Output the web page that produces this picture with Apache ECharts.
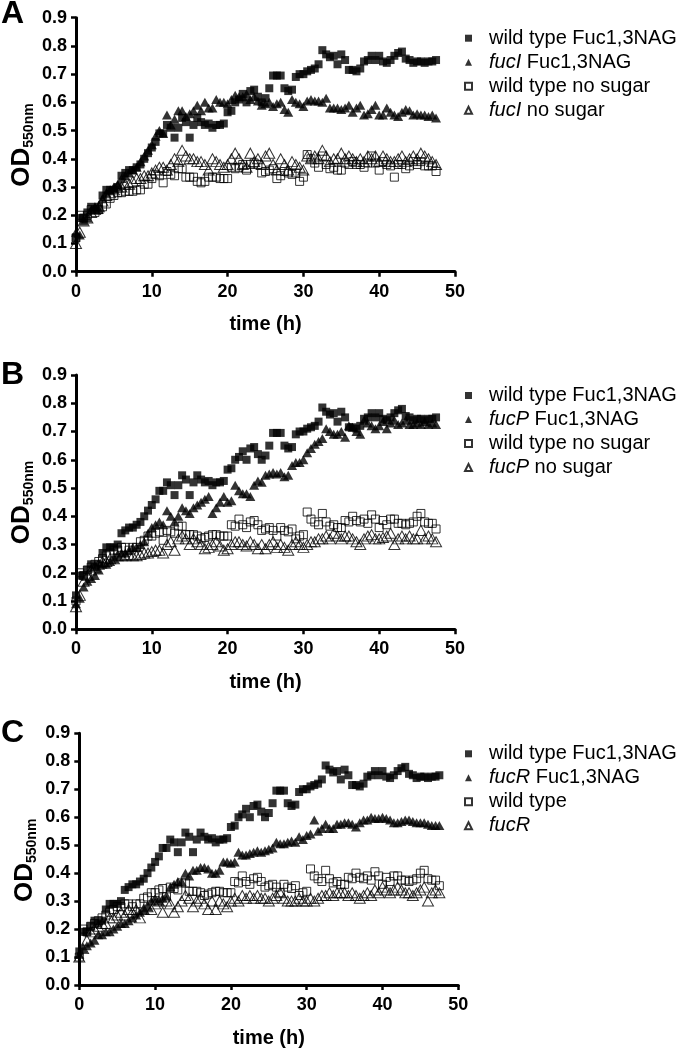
<!DOCTYPE html>
<html>
<head>
<meta charset="utf-8">
<script src="https://cdn.jsdelivr.net/npm/echarts@6/dist/echarts.min.js"></script>
<style>html,body{margin:0;padding:0;background:#fff;}#c{width:680px;height:1049px;}</style>
</head>
<body>
<div id="c"></div>
<script>
// ---- data ----
const time = [0,0.5,1,1.5,2,2.5,3,3.5,4,4.5,5,5.5,6,6.5,7,7.5,8,8.5,9,9.5,
  10,10.5,11,11.5,12,12.5,13,13.5,14,14.5,15,15.5,16,16.5,17,17.5,18,18.5,19,19.5,
  20,20.5,21,21.5,22,22.5,23,23.5,24,24.5,25,25.5,26,26.5,27,27.5,28,28.5,29,29.5,
  30,30.5,31,31.5,32,32.5,33,33.5,34,34.5,35,35.5,36,36.5,37,37.5,38,38.5,39,39.5,
  40,40.5,41,41.5,42,42.5,43,43.5,44,44.5,45,45.5,46,46.5,47,47.5];

const xTicks = [0,10,20,30,40,50];
const yTicks = [0.0,0.1,0.2,0.3,0.4,0.5,0.6,0.7,0.8,0.9];

// wild type Fuc1,3NAG (same in all panels)
const wtFuc = [0.12,0.19,0.19,0.21,0.23,0.22,0.23,0.27,0.29,0.29,
  0.29,0.30,0.34,0.35,0.36,0.36,0.37,0.38,0.40,0.42,
  0.44,0.46,0.49,0.49,0.52,0.51,0.475,0.51,0.545,0.53,
  0.475,0.52,0.545,0.53,0.52,0.525,0.51,0.52,0.52,0.525,
  0.565,0.57,0.60,0.61,0.63,0.60,0.64,0.645,0.62,0.60,
  0.615,0.65,0.695,0.695,0.695,0.65,0.64,0.645,0.69,0.70,
  0.70,0.71,0.715,0.72,0.735,0.785,0.77,0.76,0.765,0.735,
  0.77,0.75,0.715,0.715,0.71,0.72,0.745,0.75,0.765,0.75,
  0.765,0.745,0.74,0.75,0.765,0.775,0.78,0.755,0.75,0.74,
  0.745,0.745,0.74,0.745,0.745,0.75];

// panel A
const fucIFuc = [0.14,0.13,0.18,0.19,0.22,0.23,0.22,0.26,0.28,0.29,
  0.30,0.31,0.33,0.34,0.35,0.36,0.37,0.39,0.41,0.43,
  0.45,0.48,0.50,0.49,0.555,0.52,0.54,0.57,0.57,0.55,
  0.56,0.57,0.59,0.57,0.60,0.58,0.58,0.61,0.60,0.60,
  0.595,0.61,0.625,0.62,0.62,0.63,0.61,0.62,0.605,0.59,
  0.595,0.60,0.585,0.595,0.60,0.575,0.565,0.61,0.60,0.595,
  0.585,0.605,0.61,0.605,0.605,0.60,0.615,0.58,0.58,0.58,
  0.575,0.58,0.59,0.565,0.58,0.59,0.555,0.56,0.575,0.59,
  0.555,0.555,0.58,0.565,0.555,0.55,0.565,0.575,0.57,0.555,
  0.56,0.555,0.555,0.55,0.555,0.545];
const wtNoA = [0.12,0.20,0.19,0.20,0.22,0.21,0.22,0.23,0.24,0.26,
  0.27,0.28,0.28,0.285,0.285,0.285,0.29,0.29,0.31,0.31,
  0.33,0.345,0.34,0.315,0.355,0.345,0.34,0.365,0.365,0.335,
  0.335,0.335,0.32,0.315,0.32,0.335,0.335,0.335,0.33,0.33,
  0.33,0.37,0.365,0.37,0.38,0.36,0.38,0.385,0.38,0.35,
  0.355,0.36,0.365,0.33,0.34,0.355,0.35,0.345,0.35,0.32,
  0.335,0.415,0.40,0.385,0.37,0.41,0.38,0.365,0.37,0.36,
  0.36,0.385,0.38,0.39,0.38,0.38,0.37,0.385,0.41,0.385,
  0.36,0.39,0.38,0.375,0.335,0.38,0.38,0.365,0.375,0.39,
  0.38,0.39,0.375,0.375,0.375,0.355];
const fucINo = [0.10,0.14,0.18,0.19,0.21,0.22,0.23,0.25,0.27,0.28,
  0.29,0.30,0.30,0.31,0.31,0.32,0.33,0.33,0.34,0.34,
  0.35,0.36,0.37,0.37,0.36,0.38,0.40,0.39,0.43,0.41,
  0.40,0.40,0.39,0.39,0.38,0.36,0.40,0.39,0.38,0.37,
  0.38,0.40,0.42,0.40,0.38,0.37,0.42,0.39,0.40,0.38,
  0.41,0.42,0.38,0.36,0.40,0.38,0.36,0.39,0.38,0.37,
  0.36,0.41,0.40,0.41,0.40,0.43,0.41,0.39,0.40,0.40,
  0.42,0.40,0.41,0.40,0.39,0.40,0.39,0.41,0.40,0.41,
  0.39,0.41,0.40,0.39,0.39,0.40,0.41,0.39,0.40,0.41,
  0.40,0.42,0.41,0.40,0.39,0.38];

// panel B
const fucPFuc = [0.09,0.11,0.15,0.17,0.18,0.19,0.21,0.23,0.23,0.24,
  0.25,0.26,0.27,0.27,0.28,0.29,0.29,0.30,0.31,0.34,
  0.36,0.37,0.38,0.37,0.42,0.40,0.38,0.40,0.43,0.42,
  0.41,0.43,0.44,0.45,0.46,0.47,0.41,0.43,0.45,0.47,
  0.45,0.455,0.51,0.49,0.48,0.48,0.47,0.51,0.525,0.52,
  0.545,0.55,0.555,0.55,0.555,0.54,0.545,0.58,0.59,0.59,
  0.60,0.625,0.64,0.655,0.665,0.675,0.71,0.70,0.69,0.69,
  0.70,0.68,0.72,0.715,0.70,0.69,0.74,0.73,0.72,0.71,
  0.72,0.735,0.71,0.73,0.74,0.725,0.73,0.74,0.725,0.725,
  0.73,0.725,0.735,0.725,0.73,0.725];
// wild type no sugar (panels B and C)
const wtNoBC = [0.10,0.20,0.19,0.21,0.22,0.23,0.24,0.25,0.26,0.27,
  0.28,0.28,0.29,0.29,0.28,0.29,0.29,0.31,0.315,0.33,
  0.33,0.34,0.345,0.315,0.35,0.345,0.34,0.365,0.365,0.335,
  0.335,0.335,0.33,0.32,0.325,0.33,0.335,0.335,0.33,0.33,
  0.33,0.37,0.365,0.39,0.37,0.36,0.38,0.385,0.37,0.35,
  0.355,0.36,0.35,0.33,0.36,0.35,0.345,0.355,0.32,0.33,
  0.335,0.415,0.39,0.38,0.37,0.41,0.38,0.365,0.37,0.36,
  0.36,0.385,0.38,0.40,0.385,0.38,0.39,0.375,0.405,0.39,
  0.36,0.385,0.37,0.39,0.39,0.375,0.375,0.37,0.375,0.38,
  0.40,0.41,0.38,0.375,0.375,0.355];
const fucPNo = [0.08,0.12,0.17,0.19,0.21,0.22,0.23,0.24,0.24,0.25,
  0.25,0.26,0.26,0.26,0.265,0.26,0.26,0.265,0.27,0.27,
  0.275,0.28,0.28,0.27,0.30,0.31,0.28,0.32,0.33,0.32,
  0.30,0.32,0.31,0.30,0.285,0.29,0.30,0.31,0.295,0.28,
  0.285,0.30,0.31,0.31,0.30,0.295,0.31,0.30,0.285,0.30,
  0.285,0.30,0.31,0.29,0.30,0.29,0.28,0.30,0.31,0.30,
  0.29,0.30,0.31,0.31,0.32,0.32,0.33,0.32,0.34,0.33,
  0.32,0.33,0.33,0.32,0.31,0.30,0.32,0.33,0.335,0.32,
  0.32,0.325,0.33,0.34,0.30,0.32,0.33,0.32,0.33,0.32,
  0.32,0.35,0.32,0.33,0.32,0.31];

// panel C
const fucRFuc = [0.11,0.13,0.14,0.15,0.16,0.18,0.18,0.19,0.19,0.20,
  0.21,0.22,0.22,0.23,0.24,0.25,0.26,0.27,0.28,0.30,
  0.31,0.30,0.31,0.32,0.35,0.36,0.37,0.37,0.40,0.39,
  0.41,0.41,0.42,0.42,0.415,0.40,0.40,0.41,0.44,0.44,
  0.435,0.44,0.475,0.465,0.465,0.47,0.475,0.48,0.475,0.48,
  0.485,0.49,0.51,0.505,0.505,0.51,0.515,0.51,0.53,0.52,
  0.535,0.54,0.59,0.55,0.56,0.575,0.56,0.56,0.575,0.575,
  0.58,0.58,0.575,0.565,0.58,0.59,0.59,0.60,0.595,0.595,
  0.60,0.595,0.59,0.58,0.58,0.585,0.59,0.59,0.585,0.58,
  0.58,0.58,0.575,0.57,0.57,0.57];
const fucRNo = [0.10,0.13,0.16,0.19,0.20,0.21,0.22,0.22,0.24,0.24,
  0.25,0.26,0.25,0.27,0.26,0.27,0.24,0.27,0.28,0.27,
  0.29,0.30,0.26,0.30,0.29,0.26,0.28,0.30,0.32,0.31,
  0.28,0.30,0.31,0.29,0.27,0.30,0.27,0.30,0.29,0.28,
  0.30,0.31,0.30,0.32,0.31,0.32,0.31,0.32,0.31,0.31,
  0.30,0.31,0.32,0.33,0.31,0.30,0.30,0.30,0.31,0.30,
  0.30,0.31,0.30,0.31,0.32,0.32,0.33,0.32,0.33,0.33,
  0.33,0.32,0.33,0.32,0.31,0.32,0.33,0.32,0.34,0.33,
  0.35,0.34,0.33,0.34,0.35,0.34,0.33,0.33,0.32,0.33,
  0.34,0.35,0.30,0.33,0.34,0.33];

const panelLetters = ['A','B','C'];
const panelSeries = [
  [['wild type Fuc1,3NAG', wtFuc], ['fucI Fuc1,3NAG', fucIFuc], ['wild type no sugar', wtNoA], ['fucI no sugar', fucINo]],
  [['wild type Fuc1,3NAG', wtFuc], ['fucP Fuc1,3NAG', fucPFuc], ['wild type no sugar', wtNoBC], ['fucP no sugar', fucPNo]],
  [['wild type Fuc1,3NAG', wtFuc], ['fucR Fuc1,3NAG', fucRFuc], ['wild type', wtNoBC], ['fucR', fucRNo]]
];

// ---- layout / style ----
const FONT = '"Liberation Sans", Arial, sans-serif';
const grids = [
  {left: 76, top: 17.7, width: 379, height: 254},
  {left: 76, top: 375, width: 379, height: 254.3},
  {left: 79.3, top: 733.3, width: 379, height: 253.4}
];
const markerStyles = [
  {symbol: 'rect', symbolSize: 8, itemStyle: {color: '#000'}},
  {symbol: 'triangle', symbolSize: [10, 9], itemStyle: {color: '#000'}},
  {symbol: 'rect', symbolSize: 8, itemStyle: {color: 'rgba(255,255,255,0)', borderColor: '#000', borderWidth: 1}},
  {symbol: 'triangle', symbolSize: [11, 10], itemStyle: {color: 'rgba(255,255,255,0)', borderColor: '#000', borderWidth: 1}}
];

const xAxes = [], yAxes = [], series = [], legends = [], graphics = [];
grids.forEach((g, i) => {
  xAxes.push({
    gridIndex: i, type: 'value', min: xTicks[0], max: xTicks[xTicks.length - 1], interval: xTicks[1] - xTicks[0],
    axisLine: {show: true, onZero: false, lineStyle: {color: '#000', width: 3}},
    axisTick: {show: true, length: 5, lineStyle: {color: '#000', width: 2.5}},
    axisLabel: {color: '#000', fontFamily: FONT, fontWeight: 'bold', fontSize: 18, margin: 11},
    splitLine: {show: false},
    name: 'time (h)', nameLocation: 'middle', nameGap: 43,
    nameTextStyle: {color: '#000', fontFamily: FONT, fontWeight: 'bold', fontSize: 20}
  });
  yAxes.push({
    gridIndex: i, type: 'value', min: yTicks[0], max: yTicks[yTicks.length - 1], interval: 0.1,
    axisLine: {show: true, onZero: false, lineStyle: {color: '#000', width: 3}},
    axisTick: {show: true, length: 5, lineStyle: {color: '#000', width: 2.5}},
    axisLabel: {color: '#000', fontFamily: FONT, fontWeight: 'bold', fontSize: 18, margin: 9,
      formatter: v => v.toFixed(1)},
    splitLine: {show: false}
  });
  const names = [];
  panelSeries[i].forEach(([name, vals], k) => {
    names.push(name);
    series.push(Object.assign({
      type: 'scatter', name: name, xAxisIndex: i, yAxisIndex: i,
      data: vals.map((v, j) => [time[j], v]),
      silent: true, animation: false, z: 2 + k
    }, JSON.parse(JSON.stringify(markerStyles[k]))));
  });
  legends.push({
    orient: 'vertical', left: 459, top: g.top + 5.5,
    itemWidth: 7, itemHeight: 7, itemGap: 4, selectedMode: false,
    data: names,
    formatter: n => {
      const m = n.match(/^(fuc[IPR])(.*)$/);
      return m ? '{i|' + m[1] + '}' + m[2] : n;
    },
    textStyle: {color: '#000', fontFamily: FONT, fontSize: 20, lineHeight: 20, padding: [0, 0, 0, 12],
      rich: {i: {fontStyle: 'italic', fontFamily: FONT, fontSize: 20, color: '#000', lineHeight: 20}}}
  });
  // panel letter
  graphics.push({
    type: 'text', x: 1, y: (i === 0 ? 14 : g.top),
    style: {text: panelLetters[i], font: 'bold 32px ' + FONT, fill: '#000', align: 'left', verticalAlign: 'middle'}
  });
  // y axis title OD550nm (rotated)
  const cy = g.top + g.height / 2;
  graphics.push({
    type: 'group', x: g.left - 41, y: cy + 42, rotation: Math.PI / 2,
    children: [
      {type: 'text', x: 0, y: 0, style: {text: 'OD', font: 'bold 26px ' + FONT, fill: '#000', align: 'left', verticalAlign: 'bottom'}},
      {type: 'text', x: 39, y: 1, style: {text: '550nm', font: 'bold 14px ' + FONT, fill: '#000', align: 'left', verticalAlign: 'bottom'}}
    ]
  });
});

const chart = echarts.init(document.getElementById('c'), null, {renderer: 'canvas'});
chart.setOption({
  backgroundColor: '#fff',
  animation: false,
  grid: grids,
  xAxis: xAxes,
  yAxis: yAxes,
  legend: legends,
  series: series,
  graphic: graphics
});
</script>
</body>
</html>
